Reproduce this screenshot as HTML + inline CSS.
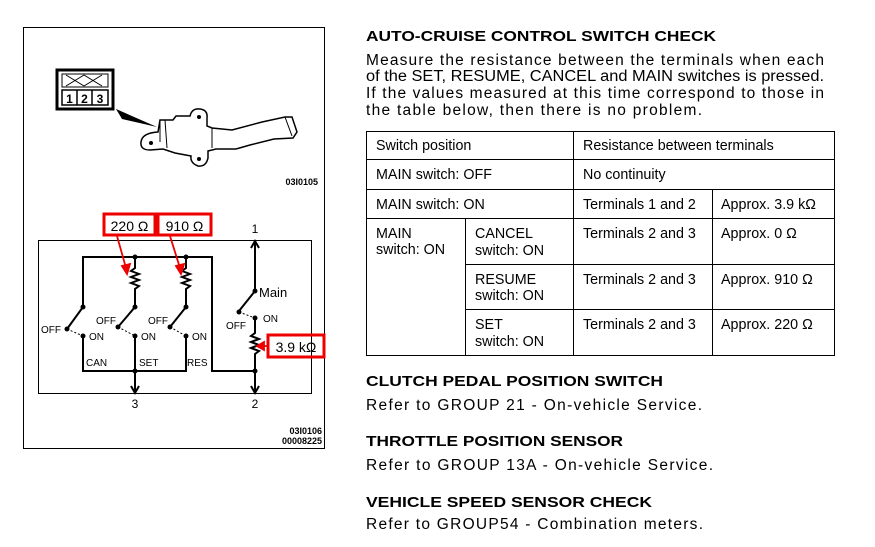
<!DOCTYPE html>
<html><head><meta charset="utf-8"><style>
html,body{margin:0;padding:0;background:#fff;}
svg{display:block;font-family:"Liberation Sans",Arial,sans-serif;}
</style></head><body>
<svg width="875" height="547" viewBox="0 0 875 547" xmlns="http://www.w3.org/2000/svg">
<rect x="23.5" y="27.5" width="301" height="421" fill="none" stroke="#000" stroke-width="1"/>
<rect x="57" y="70" width="56" height="39" fill="none" stroke="#000" stroke-width="3"/>
<rect x="62" y="74" width="46" height="13" fill="none" stroke="#000" stroke-width="1"/>
<path d="M66 75 L84 86 M66 86 L84 75 M84 75 L102 86 M84 86 L102 75" stroke="#000" stroke-width="1"/>
<rect x="62" y="90" width="46" height="15" fill="none" stroke="#000" stroke-width="1.5"/>
<path d="M77 90 V105 M92 90 V105" stroke="#000" stroke-width="1.5"/>
<text x="69.5" y="103" font-size="12" font-weight="bold" text-anchor="middle">1</text>
<text x="84.5" y="103" font-size="12" font-weight="bold" text-anchor="middle">2</text>
<text x="100" y="103" font-size="12" font-weight="bold" text-anchor="middle">3</text>
<path d="M116 109 L122 119 L157 127 Z" fill="#000"/>
<!-- switch body -->
<path d="M158 132 L160 120 L173 120 L176 116 L190 116 Q192 108 200 109 Q208 110 207 118 L207 126 L212 128 L232 130 L262 122 L285 117 L292 117 L297 132 L293 138 L274 139 L250 145 L236 149 L216 149 L208 151 L208 158 Q206 167 198 166 Q190 163 191 156 L175 153 L163 149 L150 150 Q140 150 141 142 Q142 133 158 132 Z" fill="none" stroke="#000" stroke-width="1.5"/>
<path d="M160 120 L160 142 M165 120 L167 148 M212 128 L212 148 M285 117 L292 136" fill="none" stroke="#000" stroke-width="1"/>
<circle cx="199" cy="117" r="2" fill="#000"/><circle cx="199" cy="159" r="2" fill="#000"/><circle cx="151" cy="143" r="2" fill="#000"/>
<text x="318" y="185" font-size="9" font-weight="bold" text-anchor="end">03I0105</text>
<rect x="38.5" y="240.5" width="273" height="153" fill="none" stroke="#000" stroke-width="1"/>
<g stroke="#000" stroke-width="2" fill="none">
<path d="M83 307 V257 H212 V371 H255"/>
<path d="M255 242 V291"/>
<path d="M83 336 V371 H186 V336"/>
<path d="M135 257 V268 l-4 3 l8 3 l-8 3 l8 3 l-8 3 l8 3 l-4 3 V307"/>
<path d="M186 257 V268 l-4 3 l8 3 l-8 3 l8 3 l-8 3 l8 3 l-4 3 V307"/>
<path d="M135 336 V392"/>
<path d="M255 318 V333 l-4 3 l8 3 l-8 3 l8 3 l-8 3 l8 3 l-4 3 V392"/>
<path d="M83 307 L67 329 M135 307 L118 327 M186 307 L170 327 M255 291 L239 311"/>
<path d="M251 248 L255 241 L259 248 M131 386 L135 393 L139 386 M251 386 L255 393 L259 386"/>
</g>
<g stroke="#000" stroke-width="1" stroke-dasharray="2,2">
<path d="M67 329 L83 336 M118 327 L135 336 M170 327 L186 336 M239 312 L255 318"/>
</g>
<g fill="#000">
<circle cx="83" cy="307" r="2.5"/><circle cx="67" cy="329" r="2.5"/><circle cx="83" cy="336" r="2.5"/>
<circle cx="135" cy="257" r="2.5"/><circle cx="135" cy="307" r="2.5"/><circle cx="118" cy="327" r="2.5"/><circle cx="135" cy="336" r="2.5"/>
<circle cx="186" cy="257" r="2.5"/><circle cx="186" cy="307" r="2.5"/><circle cx="170" cy="327" r="2.5"/><circle cx="186" cy="336" r="2.5"/>
<circle cx="135" cy="371" r="2.5"/><circle cx="255" cy="291" r="2.5"/><circle cx="239" cy="312" r="2.5"/><circle cx="255" cy="318" r="2.5"/><circle cx="255" cy="371" r="2.5"/>
</g>
<g font-size="10">
<text x="41" y="333">OFF</text><text x="89" y="340">ON</text>
<text x="96" y="324">OFF</text><text x="141" y="340">ON</text>
<text x="148" y="324">OFF</text><text x="192" y="340">ON</text>
<text x="226" y="329">OFF</text><text x="263" y="322">ON</text>
<text x="86" y="366">CAN</text><text x="139" y="366">SET</text><text x="187" y="366">RES</text>
</g>
<text x="259" y="297" font-size="13">Main</text>
<text x="255" y="233" font-size="12" text-anchor="middle">1</text>
<text x="135" y="408" font-size="12" text-anchor="middle">3</text>
<text x="255" y="408" font-size="12" text-anchor="middle">2</text>
<text x="322" y="434" font-size="9" font-weight="bold" text-anchor="end">03I0106</text>
<text x="322" y="444" font-size="9" font-weight="bold" text-anchor="end">00008225</text>
<g fill="none" stroke="#e00" stroke-width="3">
<rect x="104" y="214" width="51" height="21"/>
<rect x="158" y="214" width="53" height="21"/>
<rect x="268" y="335" width="56" height="22"/>
</g>
<text x="129.5" y="231" font-size="14" text-anchor="middle">220 Ω</text>
<text x="184.5" y="231" font-size="14" text-anchor="middle">910 Ω</text>
<text x="296" y="352" font-size="14" text-anchor="middle">3.9 kΩ</text>
<g stroke="#e00" stroke-width="1.8" fill="#e00">
<path d="M117 236 L126 268" fill="none"/><path d="M122 266 L127 274 L130 264 Z"/>
<path d="M170 236 L180 268" fill="none"/><path d="M176 266 L181 274 L184 264 Z"/>
<path d="M267 346 L262 346" fill="none"/><path d="M264 342 L257 346 L264 350 Z"/>
</g>
<text x="366" y="41" font-size="15" font-weight="bold" textLength="350" lengthAdjust="spacingAndGlyphs">AUTO-CRUISE CONTROL SWITCH CHECK</text>
<g font-size="15.5">
<text x="366" y="65" textLength="458" lengthAdjust="spacing">Measure the resistance between the terminals when each</text>
<text x="366" y="81" textLength="458" lengthAdjust="spacingAndGlyphs">of the SET, RESUME, CANCEL and MAIN switches is pressed.</text>
<text x="366" y="98" textLength="458" lengthAdjust="spacing">If the values measured at this time correspond to those in</text>
<text x="366" y="115" textLength="336" lengthAdjust="spacing">the table below, then there is no problem.</text>
</g>
<g stroke="#000" stroke-width="1" fill="none">
<rect x="366.5" y="131.5" width="468" height="224"/>
<path d="M366 159.5 H834 M366 189.5 H834 M366 218.5 H834 M465 264.5 H834 M465 309.5 H834"/>
<path d="M573.5 131 V355 M712.5 189 V355 M465.5 218 V355"/>
</g>
<g font-size="14.3">
<text x="376" y="150">Switch position</text>
<text x="583" y="150">Resistance between terminals</text>
<text x="376" y="179">MAIN switch: OFF</text>
<text x="583" y="179">No continuity</text>
<text x="376" y="209">MAIN switch: ON</text>
<text x="583" y="209">Terminals 1 and 2</text>
<text x="721" y="209">Approx. 3.9 kΩ</text>
<text x="376" y="238">MAIN</text><text x="376" y="254">switch: ON</text>
<text x="475" y="238">CANCEL</text><text x="475" y="255">switch: ON</text>
<text x="583" y="238">Terminals 2 and 3</text><text x="721" y="238">Approx. 0 Ω</text>
<text x="475" y="284">RESUME</text><text x="475" y="300">switch: ON</text>
<text x="583" y="284">Terminals 2 and 3</text><text x="721" y="284">Approx. 910 Ω</text>
<text x="475" y="329">SET</text><text x="475" y="346">switch: ON</text>
<text x="583" y="329">Terminals 2 and 3</text><text x="721" y="329">Approx. 220 Ω</text>
</g>
<g font-size="15.5">
<text x="366" y="386" font-weight="bold" font-size="15" textLength="297" lengthAdjust="spacingAndGlyphs">CLUTCH PEDAL POSITION SWITCH</text>
<text x="366" y="410" textLength="336" lengthAdjust="spacing">Refer to GROUP 21 - On-vehicle Service.</text>
<text x="366" y="446" font-weight="bold" font-size="15" textLength="257" lengthAdjust="spacingAndGlyphs">THROTTLE POSITION SENSOR</text>
<text x="366" y="470" textLength="347" lengthAdjust="spacing">Refer to GROUP 13A - On-vehicle Service.</text>
<text x="366" y="507" font-weight="bold" font-size="15" textLength="286" lengthAdjust="spacingAndGlyphs">VEHICLE SPEED SENSOR CHECK</text>
<text x="366" y="529" textLength="337" lengthAdjust="spacing">Refer to GROUP54 - Combination meters.</text>
</g>
</svg>
</body></html>
